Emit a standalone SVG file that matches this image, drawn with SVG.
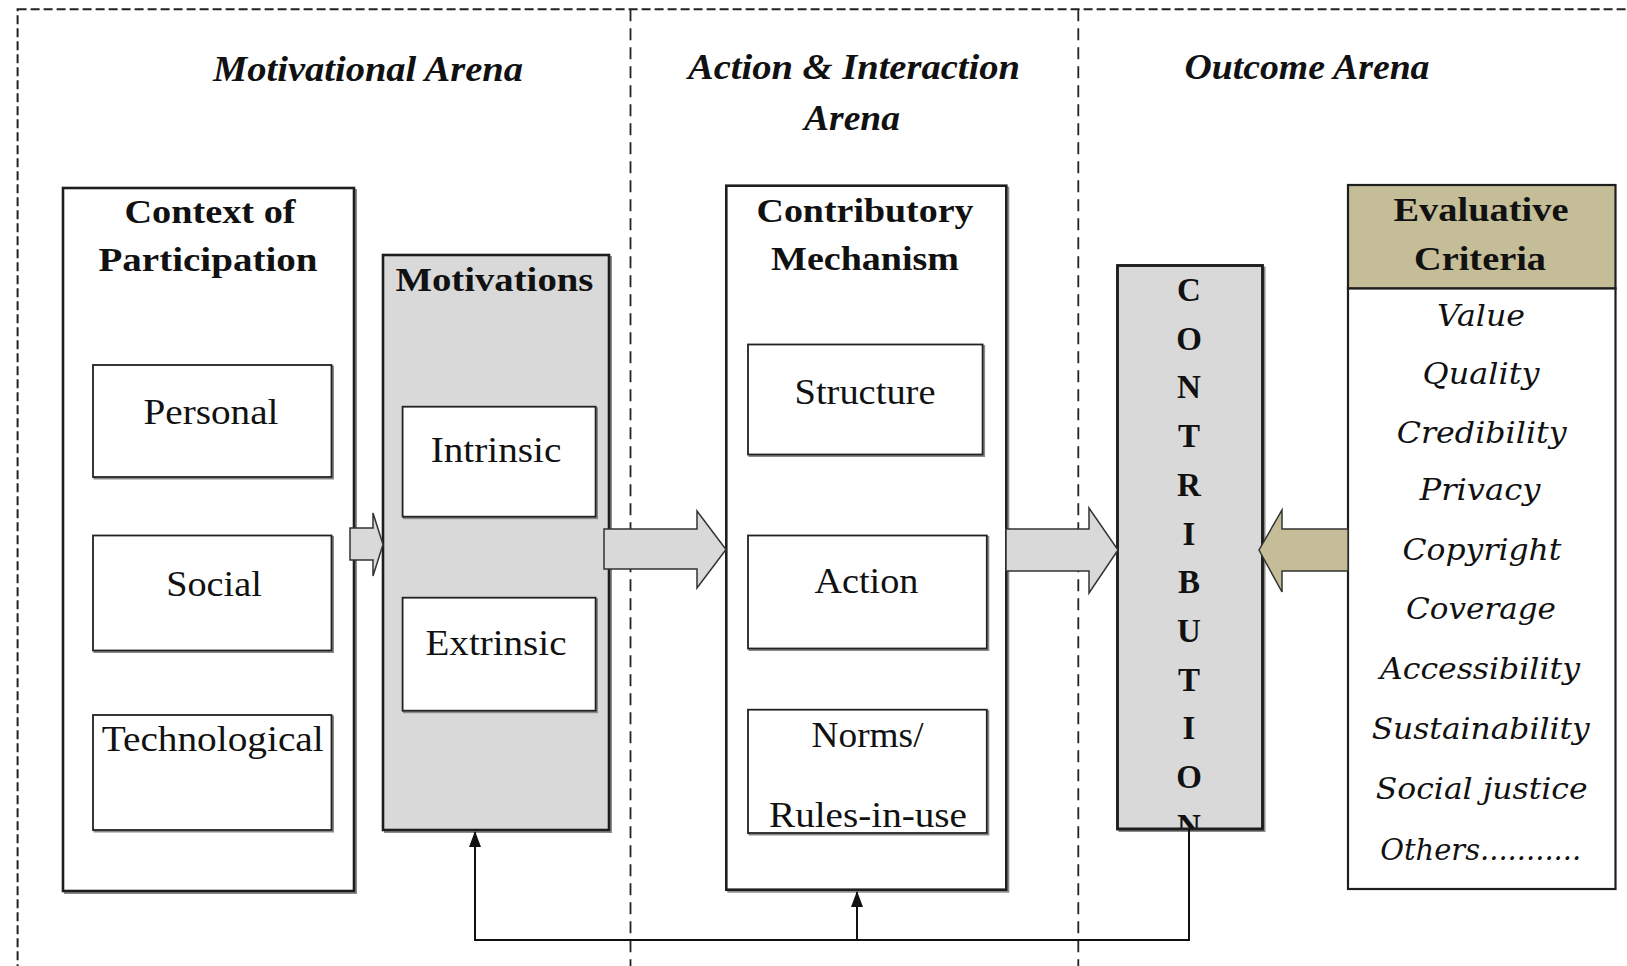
<svg xmlns="http://www.w3.org/2000/svg" width="1627" height="966" viewBox="0 0 1627 966">
  <defs>
    <style>
      .frame { fill: none; stroke: #222; stroke-width: 2; stroke-dasharray: 9 4; }
      .divider { fill: none; stroke: #222; stroke-width: 1.8; stroke-dasharray: 12 7; }
      .shadow { fill: none; stroke: #8a8a8a; stroke-width: 2; }
      .outer { fill: #fff; stroke: #1e1e1e; stroke-width: 2.6; }
      .grey { fill: #d9d9d9; stroke: #1e1e1e; stroke-width: 2.6; }
      .inner { fill: #fff; stroke: #222; stroke-width: 1.8; }
      .tan { fill: #c4bd97; stroke: #1e1e1e; stroke-width: 2.2; }
      .list { fill: #fff; stroke: #1e1e1e; stroke-width: 2.2; }
      .block-arrow { fill: #d9d9d9; stroke: #333; stroke-width: 1.5; stroke-linejoin: miter; }
      .tan-arrow { fill: #c4bd97; stroke: #333; stroke-width: 1.5; }
      .link { fill: none; stroke: #111; stroke-width: 2; }
      .arena { font-family: "Liberation Serif", "Times New Roman", serif; font-weight: bold; font-style: italic; font-size: 36px; fill: #111; text-anchor: middle; }
      .title { font-family: "Liberation Serif", "Times New Roman", serif; font-weight: bold; font-size: 33px; fill: #111; text-anchor: middle; }
      .label { font-family: "Liberation Serif", "Times New Roman", serif; font-size: 35px; fill: #111; text-anchor: middle; }
      .vletter { font-family: "Liberation Serif", "Times New Roman", serif; font-weight: bold; font-size: 33px; fill: #111; text-anchor: middle; }
      .crit { font-family: "DejaVu Serif", "Liberation Serif", serif; font-style: italic; font-size: 30px; fill: #111; text-anchor: middle; }
    </style>
    <marker id="arrowhead" markerWidth="16" markerHeight="12" refX="15" refY="6" orient="auto" markerUnits="userSpaceOnUse" viewBox="0 0 16 12">
      <path d="M0,0 L16,6 L0,12 Z" fill="#111"/>
    </marker>
    <clipPath id="contribClip">
      <rect x="1117.5" y="265.5" width="145" height="563.5"/>
    </clipPath>
  </defs>

  <rect width="1627" height="966" fill="#fff"/>

  <!-- dashed arena frame and dividers -->
  <g id="arenas">
    <rect class="frame" x="17.6" y="9.3" width="1640" height="1000"/>
    <line class="divider" x1="630.5" y1="9.3" x2="630.5" y2="966"/>
    <line class="divider" x1="1078.3" y1="9.3" x2="1078.3" y2="966"/>
    <text class="arena" x="368" y="81" textLength="310" lengthAdjust="spacingAndGlyphs">Motivational Arena</text>
    <text class="arena" x="854" y="79" textLength="332" lengthAdjust="spacingAndGlyphs">Action &amp; Interaction</text>
    <text class="arena" x="852" y="130" textLength="96" lengthAdjust="spacingAndGlyphs">Arena</text>
    <text class="arena" x="1307" y="79" textLength="245" lengthAdjust="spacingAndGlyphs">Outcome Arena</text>
  </g>

  <!-- Context of Participation -->
  <g id="context">
    <rect class="shadow" x="65" y="190" width="291" height="703"/>
    <rect class="outer" x="63" y="188" width="291" height="703"/>
    <text class="title" x="210" y="223" textLength="171" lengthAdjust="spacingAndGlyphs">Context of</text>
    <text class="title" x="208" y="271" textLength="219" lengthAdjust="spacingAndGlyphs">Participation</text>
    <g id="personal">
      <rect class="shadow" x="94.5" y="366.5" width="238.5" height="112"/>
      <rect class="inner" x="93" y="365" width="238.5" height="112"/>
      <text class="label" x="211" y="423.5" textLength="135" lengthAdjust="spacingAndGlyphs">Personal</text>
    </g>
    <g id="social">
      <rect class="shadow" x="94.5" y="537" width="238.5" height="115"/>
      <rect class="inner" x="93" y="535.5" width="238.5" height="115"/>
      <text class="label" x="214" y="595.5" textLength="95.5" lengthAdjust="spacingAndGlyphs">Social</text>
    </g>
    <g id="technological">
      <rect class="shadow" x="94.5" y="716.5" width="238.5" height="115"/>
      <rect class="inner" x="93" y="715" width="238.5" height="115"/>
      <text class="label" x="212.7" y="751" textLength="222" lengthAdjust="spacingAndGlyphs">Technological</text>
    </g>
  </g>

  <!-- Motivations -->
  <g id="motivations">
    <rect class="shadow" x="385" y="257" width="226" height="575"/>
    <rect class="grey" x="383" y="255" width="226" height="575"/>
    <text class="title" x="494.4" y="290.5" textLength="198" lengthAdjust="spacingAndGlyphs">Motivations</text>
    <g id="intrinsic">
      <rect class="shadow" x="404" y="408.2" width="193" height="110"/>
      <rect class="inner" x="402.6" y="406.7" width="193" height="110"/>
      <text class="label" x="496" y="461.7" textLength="130.7" lengthAdjust="spacingAndGlyphs">Intrinsic</text>
    </g>
    <g id="extrinsic">
      <rect class="shadow" x="404" y="599.2" width="193" height="113"/>
      <rect class="inner" x="402.6" y="597.7" width="193" height="113"/>
      <text class="label" x="496" y="654.7" textLength="141" lengthAdjust="spacingAndGlyphs">Extrinsic</text>
    </g>
  </g>

  <!-- Contributory Mechanism -->
  <g id="mechanism">
    <rect class="shadow" x="728.3" y="187.7" width="280" height="704"/>
    <rect class="outer" x="726.3" y="185.7" width="280" height="704"/>
    <text class="title" x="865" y="222" textLength="217" lengthAdjust="spacingAndGlyphs">Contributory</text>
    <text class="title" x="865" y="270" textLength="188" lengthAdjust="spacingAndGlyphs">Mechanism</text>
    <g id="structure">
      <rect class="shadow" x="749.5" y="346" width="234.6" height="110"/>
      <rect class="inner" x="748" y="344.5" width="234.6" height="110"/>
      <text class="label" x="865" y="403.6" textLength="141" lengthAdjust="spacingAndGlyphs">Structure</text>
    </g>
    <g id="action">
      <rect class="shadow" x="749.5" y="537" width="238.8" height="113"/>
      <rect class="inner" x="748" y="535.5" width="238.8" height="113"/>
      <text class="label" x="866.4" y="592.5" textLength="104" lengthAdjust="spacingAndGlyphs">Action</text>
    </g>
    <g id="norms">
      <rect class="shadow" x="749.5" y="711.2" width="238.8" height="123.3"/>
      <rect class="inner" x="748" y="709.7" width="238.8" height="123.3"/>
      <text class="label" x="867.5" y="747" textLength="112" lengthAdjust="spacingAndGlyphs">Norms/</text>
      <text class="label" x="868" y="827" textLength="198" lengthAdjust="spacingAndGlyphs">Rules-in-use</text>
    </g>
  </g>

  <!-- Contribution (vertical lettering) -->
  <g id="contribution">
    <rect class="shadow" x="1119.5" y="267.5" width="145" height="563.5"/>
    <rect class="grey" x="1117.5" y="265.5" width="145" height="563.5"/>
    <g clip-path="url(#contribClip)">
      <text class="vletter" x="1189" y="301">C</text>
      <text class="vletter" x="1189" y="349.7">O</text>
      <text class="vletter" x="1189" y="398.4">N</text>
      <text class="vletter" x="1189" y="447.1">T</text>
      <text class="vletter" x="1189" y="495.8">R</text>
      <text class="vletter" x="1189" y="544.5">I</text>
      <text class="vletter" x="1189" y="593.2">B</text>
      <text class="vletter" x="1189" y="641.9">U</text>
      <text class="vletter" x="1189" y="690.6">T</text>
      <text class="vletter" x="1189" y="739.3">I</text>
      <text class="vletter" x="1189" y="788">O</text>
      <text class="vletter" x="1189" y="836.7">N</text>
    </g>
    <rect x="1117.5" y="265.5" width="145" height="563.5" fill="none" stroke="#1e1e1e" stroke-width="2.6"/>
  </g>

  <!-- Evaluative Criteria -->
  <g id="criteria">
    <rect class="tan" x="1348" y="185" width="267.5" height="103.5"/>
    <rect class="list" x="1348" y="288.5" width="267.5" height="600.5"/>
    <text class="title" x="1481" y="221" textLength="175" lengthAdjust="spacingAndGlyphs">Evaluative</text>
    <text class="title" x="1480" y="270" textLength="132" lengthAdjust="spacingAndGlyphs">Criteria</text>
    <text class="crit" x="1481" y="326" textLength="88" lengthAdjust="spacingAndGlyphs">Value</text>
    <text class="crit" x="1481" y="384" textLength="117" lengthAdjust="spacingAndGlyphs">Quality</text>
    <text class="crit" x="1481.7" y="443" textLength="170" lengthAdjust="spacingAndGlyphs">Credibility</text>
    <text class="crit" x="1480" y="500" textLength="121" lengthAdjust="spacingAndGlyphs">Privacy</text>
    <text class="crit" x="1482" y="560" textLength="159" lengthAdjust="spacingAndGlyphs">Copyright</text>
    <text class="crit" x="1481" y="619" textLength="150" lengthAdjust="spacingAndGlyphs">Coverage</text>
    <text class="crit" x="1480" y="678.5" textLength="200" lengthAdjust="spacingAndGlyphs">Accessibility</text>
    <text class="crit" x="1480.7" y="738.5" textLength="218" lengthAdjust="spacingAndGlyphs">Sustainability</text>
    <text class="crit" x="1481.7" y="799" textLength="211.7" lengthAdjust="spacingAndGlyphs">Social justice</text>
    <text class="crit" x="1480.7" y="860" textLength="201" lengthAdjust="spacingAndGlyphs">Others...........</text>
  </g>

  <!-- connectors: block arrows and feedback loop -->
  <g id="connectors">
    <polygon class="block-arrow" points="350,528 373,528 373,513 383,544.5 373,576 373,560 350,560"/>
    <polygon class="block-arrow" points="604,529 697,529 697,511 726,549.5 697,588 697,569 604,569"/>
    <polygon class="block-arrow" points="1006,529 1089,529 1089,508 1118,550 1089,593 1089,571 1006,571"/>
    <polygon class="tan-arrow" points="1348,529 1282,529 1282,510 1259,550 1282,592 1282,571 1348,571"/>
    <polyline class="link" points="1189,829 1189,940 475,940 475,832" marker-end="url(#arrowhead)"/>
    <line class="link" x1="857" y1="940" x2="857" y2="892" marker-end="url(#arrowhead)"/>
  </g>
</svg>
